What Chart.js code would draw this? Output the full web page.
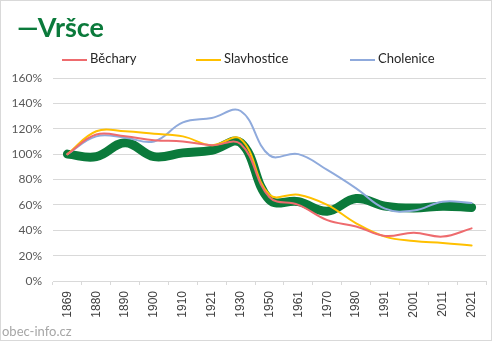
<!DOCTYPE html>
<html>
<head>
<meta charset="utf-8">
<script src="https://cdn.jsdelivr.net/npm/chart.js@4"></script>
<style>
  body { margin: 0; background: #fff; }
  #wrap { position: relative; width: 492px; height: 343px; font-family: Lato, "Open Sans", sans-serif; }
  #frame { position: absolute; left: 0; top: 0; width: 490px; height: 339px; border: 1px solid #d9d9d9; pointer-events: none; }
  #title { position: absolute; left: 17px; top: 11px; font-size: 27px; font-weight: bold; color: #0b7a3b; line-height: 32px; }
  .leg { position: absolute; top: 50px; font-size: 13px; color: #262626; }
  .leg span { display: inline-block; width: 25px; height: 2px; vertical-align: middle; margin-right: 3px; }
  #src { position: absolute; left: 2px; top: 323px; font-size: 13px; color: #a6a6a6; }
  canvas { position: absolute; left: 0; top: 0; }
</style>
</head>
<body>
<div id="wrap">
  <canvas id="myChart" width="492" height="343"></canvas>
  <div id="frame"></div>
  <div id="title">—Vršce</div>
  <div class="leg" style="left:62px"><span style="background:#ee6b6e"></span>Běchary</div>
  <div class="leg" style="left:196px"><span style="background:#ffc000"></span>Slavhostice</div>
  <div class="leg" style="left:350px"><span style="background:#8faadc"></span>Cholenice</div>
  <div id="src">obec-info.cz</div>
</div>
<script>
var years = ['1869', '1880', '1890', '1900', '1910', '1921', '1930', '1950', '1961', '1970', '1980', '1991', '2001', '2011', '2021'];
var vrsce = [100, 98, 109, 98, 101, 103, 109, 64, 62.5, 55, 65, 59, 57.5, 59, 58];
var bechary = [100, 115.5, 114, 111, 110, 107, 108, 66, 60, 48, 43, 35.5, 38, 35, 41.5];
var slavhostice = [100, 118, 118, 116, 114, 107, 112, 68, 68, 60, 45.5, 35, 31.5, 30, 28];
var cholenice = [100, 114, 113, 110, 125, 128.5, 134, 99, 100, 87.5, 73, 57, 55.5, 62.5, 61.5];
var yTicks = [0, 20, 40, 60, 80, 100, 120, 140, 160];

var ctx = document.getElementById('myChart').getContext('2d');

function line(label, data, color, width) {
    return {
        label: label,
        data: data,
        borderColor: color,
        backgroundColor: color,
        borderWidth: width,
        pointRadius: 0,
        tension: 0.4,
        borderCapStyle: 'round',
        fill: false
    };
}

var myChart = new Chart(ctx, {
    type: 'line',
    data: {
        labels: years,
        datasets: [
            line('Běchary', bechary, '#ee6b6e', 2),
            line('Slavhostice', slavhostice, '#ffc000', 2),
            line('Cholenice', cholenice, '#8faadc', 2),
            line('Vršce', vrsce, '#0b7a3b', 9)
        ]
    },
    options: {
        responsive: false,
        animation: false,
        layout: { padding: { top: 78, right: 0, bottom: 0, left: 0 } },
        plugins: { legend: { display: false }, tooltip: { enabled: false } },
        scales: {
            x: {
                offset: true,
                grid: { offset: true, drawOnChartArea: false, drawTicks: true, tickLength: 4, color: '#d9d9d9' },
                border: { color: '#d9d9d9' },
                ticks: {
                    minRotation: 90, maxRotation: 90, padding: 6,
                    color: '#404040', font: { family: 'Liberation Sans', size: 12 }
                },
                afterFit: function(axis) { axis.height = 62; }
            },
            y: {
                min: 0, max: 160,
                afterBuildTicks: function(axis) { axis.ticks = yTicks.map(function(v) { return { value: v }; }); },
                grid: { color: '#d9d9d9', drawTicks: false },
                border: { display: false },
                ticks: {
                    padding: 11,
                    color: '#595959', font: { family: 'Lato', size: 12 },
                    callback: function(v) { return v + '%'; }
                },
                afterFit: function(axis) { axis.width = 53; }
            }
        }
    }
});
</script>
</body>
</html>
